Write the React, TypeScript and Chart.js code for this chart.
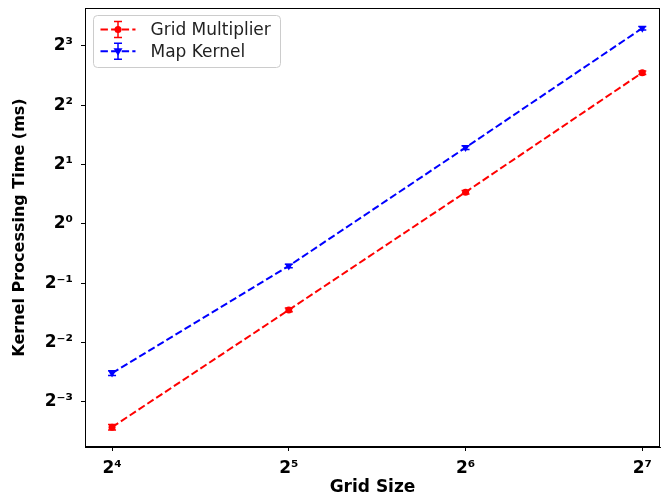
import React, { useEffect, useRef } from "react";
import { Chart, registerables } from "chart.js";

Chart.register(...registerables);

const gridSizes = [16, 32, 64, 128];
const gridMultiplier = [0.093, 0.366, 1.45, 5.86];
const gridMultiplierErr = [0.003, 0.008, 0.03, 0.12];
const mapKernel = [0.175, 0.612, 2.44, 9.85];
const mapKernelErr = [0.005, 0.012, 0.05, 0.2];
const xTickValues = [16, 32, 64, 128];
const yTickValues = [0.125, 0.25, 0.5, 1, 2, 4, 8];
const seriesNames = ["Grid Multiplier", "Map Kernel"];

const RED = "#ff0000";
const BLUE = "#0000ff";
const FONT = '"DejaVu Sans", sans-serif';
const DASH = [7.4, 3.2];

const SUP: Record<string, string> = {
  "0": "\u2070", "1": "\u00b9", "2": "\u00b2", "3": "\u00b3", "4": "\u2074",
  "5": "\u2075", "6": "\u2076", "7": "\u2077", "8": "\u2078", "9": "\u2079", "-": "\u207b",
};
const pow2Label = (v: number) => {
  const e = Math.round(Math.log2(v));
  return "2" + String(e).split("").map((c) => SUP[c] || c).join("");
};

const errs = [gridMultiplierErr, mapKernelErr];

function drawMarker(ctx: CanvasRenderingContext2D, kind: number, x: number, y: number, color: string) {
  ctx.save();
  ctx.fillStyle = color;
  ctx.strokeStyle = color;
  ctx.setLineDash([]);
  ctx.lineWidth = 1;
  ctx.beginPath();
  if (kind === 0) {
    ctx.arc(x, y, 3.5, 0, Math.PI * 2);
  } else {
    ctx.moveTo(x - 4.5, y - 3);
    ctx.lineTo(x + 4.5, y - 3);
    ctx.lineTo(x, y + 4.5);
    ctx.closePath();
  }
  ctx.fill();
  ctx.restore();
}

const errorBarPlugin = {
  id: "errorBars",
  afterDatasetsDraw(chart: any) {
    const ctx: CanvasRenderingContext2D = chart.ctx;
    const xs = chart.scales.x;
    const ys = chart.scales.y;
    chart.data.datasets.forEach((ds: any, di: number) => {
      const e = errs[di];
      ctx.save();
      ctx.strokeStyle = ds.borderColor;
      ctx.lineWidth = 1.5;
      ds.data.forEach((p: any, i: number) => {
        const x = xs.getPixelForValue(p.x);
        const yTop = ys.getPixelForValue(p.y + e[i]);
        const yBot = ys.getPixelForValue(p.y - e[i]);
        ctx.beginPath();
        ctx.moveTo(x, yTop);
        ctx.lineTo(x, yBot);
        ctx.moveTo(x - 4, yTop);
        ctx.lineTo(x + 4, yTop);
        ctx.moveTo(x - 4, yBot);
        ctx.lineTo(x + 4, yBot);
        ctx.stroke();
      });
      ctx.restore();
    });
  },
};

const framePlugin = {
  id: "frame",
  afterDraw(chart: any) {
    const { ctx, chartArea: a } = chart;
    ctx.save();
    ctx.strokeStyle = "#000";
    ctx.lineWidth = 1;
    ctx.strokeRect(a.left + 0.5, a.top + 0.5, a.right - a.left - 1, a.bottom - a.top - 1);
    ctx.restore();
  },
};

const legendPlugin = {
  id: "innerLegend",
  afterDraw(chart: any) {
    const ctx: CanvasRenderingContext2D = chart.ctx;
    const a = chart.chartArea;
    const bx = a.left + 8.5, by = a.top + 7.5, bw = 187, bh = 52, r = 4;
    ctx.save();
    ctx.fillStyle = "rgba(255,255,255,0.8)";
    ctx.strokeStyle = "#cccccc";
    ctx.lineWidth = 1;
    ctx.beginPath();
    ctx.moveTo(bx + r, by);
    ctx.lineTo(bx + bw - r, by);
    ctx.quadraticCurveTo(bx + bw, by, bx + bw, by + r);
    ctx.lineTo(bx + bw, by + bh - r);
    ctx.quadraticCurveTo(bx + bw, by + bh, bx + bw - r, by + bh);
    ctx.lineTo(bx + r, by + bh);
    ctx.quadraticCurveTo(bx, by + bh, bx, by + bh - r);
    ctx.lineTo(bx, by + r);
    ctx.quadraticCurveTo(bx, by, bx + r, by);
    ctx.closePath();
    ctx.fill();
    ctx.stroke();
    const colors = [RED, BLUE];
    seriesNames.forEach((name, i) => {
      const cy = by + 14 + i * 21.7;
      const x0 = bx + 7, x1 = bx + 42, xm = (x0 + x1) / 2;
      ctx.strokeStyle = colors[i];
      ctx.lineWidth = 2;
      ctx.setLineDash(DASH);
      ctx.beginPath();
      ctx.moveTo(x0, cy);
      ctx.lineTo(x1, cy);
      ctx.stroke();
      ctx.setLineDash([]);
      ctx.lineWidth = 1.5;
      ctx.beginPath();
      ctx.moveTo(xm, cy - 8);
      ctx.lineTo(xm, cy + 8);
      ctx.moveTo(xm - 4, cy - 8);
      ctx.lineTo(xm + 4, cy - 8);
      ctx.moveTo(xm - 4, cy + 8);
      ctx.lineTo(xm + 4, cy + 8);
      ctx.stroke();
      drawMarker(ctx, i, xm, cy, colors[i]);
      ctx.fillStyle = "#222";
      ctx.font = `17px ${FONT}`;
      ctx.textBaseline = "middle";
      ctx.textAlign = "left";
      ctx.fillText(name, bx + 57, cy + 1);
    });
    ctx.restore();
  },
};

const zeroPad = (s: any) => {
  s.paddingTop = 0;
  s.paddingBottom = 0;
  s.paddingLeft = 0;
  s.paddingRight = 0;
};

export default function App() {
  const ref = useRef<HTMLCanvasElement | null>(null);
  useEffect(() => {
    if (!ref.current) return;
    const chart = new Chart(ref.current, {
      type: "line",
      data: {
        datasets: [
          {
            label: seriesNames[0],
            data: gridSizes.map((x, i) => ({ x, y: gridMultiplier[i] })),
            borderColor: RED,
            backgroundColor: RED,
            borderWidth: 2,
            borderDash: DASH,
            pointStyle: "circle",
            pointRadius: 3.5,
            pointBorderWidth: 0,
            tension: 0,
          },
          {
            label: seriesNames[1],
            data: gridSizes.map((x, i) => ({ x, y: mapKernel[i] })),
            borderColor: BLUE,
            backgroundColor: BLUE,
            borderWidth: 2,
            borderDash: DASH,
            pointStyle: "triangle",
            rotation: 180,
            pointRadius: 4.5,
            pointBorderWidth: 0,
            tension: 0,
          },
        ],
      },
      options: {
        animation: false,
        responsive: false,
        layout: { autoPadding: false, padding: { top: 8, right: 1, left: 0, bottom: 0 } },
        plugins: { legend: { display: false }, tooltip: { enabled: false } },
        scales: {
          x: {
            type: "logarithmic",
            min: 14.39,
            max: 137.2,
            afterBuildTicks: (s: any) => {
              s.ticks = xTickValues.map((v) => ({ value: v }));
            },
            afterFit: (s: any) => {
              s.height = 49;
              zeroPad(s);
            },
            ticks: {
              autoSkip: false,
              maxRotation: 0,
              padding: 7,
              color: "#000",
              font: { family: FONT, size: 17, weight: "bold" },
              callback: (v: any) => pow2Label(Number(v)),
            },
            grid: { drawOnChartArea: false, drawTicks: true, tickLength: 4, color: "#000" },
            border: { display: true, color: "#000", width: 1 },
            title: {
              display: true,
              text: "Grid Size",
              color: "#000",
              font: { family: FONT, size: 17, weight: "bold" },
              padding: { top: 0, bottom: -2 },
            },
          },
          y: {
            type: "logarithmic",
            min: 0.0738,
            max: 12.47,
            afterBuildTicks: (s: any) => {
              s.ticks = yTickValues.map((v) => ({ value: v }));
            },
            afterFit: (s: any) => {
              s.width = 85;
              zeroPad(s);
            },
            ticks: {
              autoSkip: false,
              padding: 8,
              color: "#000",
              font: { family: FONT, size: 17, weight: "bold" },
              callback: (v: any) => pow2Label(Number(v)),
            },
            grid: { drawOnChartArea: false, drawTicks: true, tickLength: 4, color: "#000" },
            border: { display: true, color: "#000", width: 1 },
            title: {
              display: true,
              text: "Kernel Processing Time (ms)",
              color: "#000",
              font: { family: FONT, size: 16, weight: "bold" },
              padding: { top: 10, bottom: 0 },
            },
          },
        },
      },
      plugins: [errorBarPlugin, framePlugin, legendPlugin],
    } as any);
    return () => chart.destroy();
  }, []);
  return (
    <div style={{ position: "fixed", left: 0, top: 0, width: 661, height: 496, background: "#fff" }}>
      <canvas ref={ref} width={661} height={496} />
    </div>
  );
}
